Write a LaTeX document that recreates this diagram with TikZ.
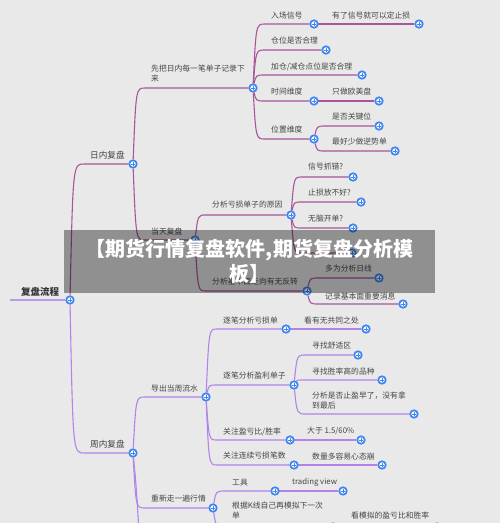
\documentclass[tikz,border=0pt]{standalone}
\usepackage{fontspec}
\setmainfont{Noto Sans CJK SC}
\usetikzlibrary{calc}

\definecolor{paper}{HTML}{E9E9E9}
\definecolor{plum}{HTML}{A8559C}
\definecolor{violet}{HTML}{B283EA}
\definecolor{lavender}{HTML}{B898E8}
\definecolor{knobblue}{HTML}{3D85F0}
\definecolor{inkgray}{HTML}{454545}

\pgfdeclarelayer{edges}
\pgfsetlayers{edges,main}

\begin{document}
\begin{tikzpicture}[x=1pt, y=-1pt,
        knob/.style={circle, draw=knobblue, fill=white, line width=1.7pt, minimum size=7.5pt, inner sep=0pt,
            path picture={\draw[knobblue, line width=0.8pt] (path picture bounding box.center) +(-1.6pt,0) -- +(1.6pt,0)
                (path picture bounding box.center) +(0,-1.6pt) -- +(0,1.6pt);}},
        lbl/.style={anchor=west, inner sep=0pt, text=inkgray, font=\fontsize{7.8}{9.6}\selectfont},
        lbltwo/.style={lbl, anchor=north west, align=left},
        chief/.style={lbl, font=\fontsize{8.6}{10}\selectfont, text=black!75},
        plumline/.style={plum, line width=1.1pt},
        violetline/.style={violet, line width=1.1pt}]

    \begin{pgfonlayer}{edges}
        \fill[paper] (0,0) rectangle (500,523);
    \end{pgfonlayer}
    \useasboundingbox (0,0) rectangle (500,523);

    % root
    \coordinate (rootend) at (10,300);
    \node[knob] (r0) at (70,300) {};
    \node[lbl, font=\fontsize{9.5}{11}\selectfont\bfseries, text=black!80] (tr0) at (21,292) {复盘流程};

    % 日内复盘
    \node[knob] (a) at (133,164) {};
    \node[chief] (ta) at (90,155) {日内复盘};
    \node[knob] (a1) at (253,88) {};
    \node[lbltwo] (ta1) at (151,65) {先把日内每一笔单子记录下\\来};
    \node[knob] (a11) at (314,24) {};
    \node[lbl] (ta11) at (271,16) {入场信号};
    \node[knob] (a111) at (419,24) {};
    \node[lbl] (ta111) at (332,16) {有了信号就可以定止损};
    \node[knob] (a12) at (326,50) {};
    \node[lbl] (ta12) at (271,41) {仓位是否合理};
    \node[knob] (a13) at (362,75) {};
    \node[lbl] (ta13) at (271,67) {加仓/减仓点位是否合理};
    \node[knob] (a14) at (314,101) {};
    \node[lbl] (ta14) at (271,92) {时间维度};
    \node[knob] (a141) at (379,101) {};
    \node[lbl] (ta141) at (332,92) {只做欧美盘};
    \node[knob] (a15) at (314,139) {};
    \node[lbl] (ta15) at (271,130) {位置维度};
    \node[knob] (a151) at (379,126) {};
    \node[lbl] (ta151) at (332,117) {是否关键位};
    \node[knob] (a152) at (395,151) {};
    \node[lbl] (ta152) at (332,142) {最好少做逆势单};

    \node[knob] (a2) at (195,240) {};
    \node[lbl] (ta2) at (151,231) {当天复盘};
    \node[knob] (a21) at (291,215) {};
    \node[lbl] (ta21) at (212,205) {分析亏损单子的原因};
    \node[knob] (a211) at (353,177) {};
    \node[lbl] (ta211) at (308,167) {信号抓错?};
    \node[knob] (a212) at (361,202) {};
    \node[lbl] (ta212) at (308,193) {止损放不好?};
    \node[knob] (a213) at (353,228) {};
    \node[lbl] (ta213) at (308,219) {无脑开单?};
    \node[knob] (a214) at (352,253) {};
    \node[knob] (a22) at (307,291) {};
    \node[lbl] (ta22) at (212,282) {分析基本面走向有无反转};
    \node[knob] (a221) at (379,278) {};
    \node[lbl] (ta221) at (325,269) {多为分析日线};
    \node[knob] (a222) at (403,304) {};
    \node[lbl] (ta222) at (325,296) {记录基本面重要消息};

    % 周内复盘
    \node[knob] (b) at (133,453) {};
    \node[chief] (tb) at (90,444) {周内复盘};
    \coordinate (bdown) at (139,532);
    \node[knob] (b1) at (206,397) {};
    \node[lbl] (tb1) at (151,389) {导出当周流水};
    \node[knob] (b11) at (286,329) {};
    \node[lbl] (tb11) at (223,321) {逐笔分析亏损单};
    \node[knob] (b111) at (366,329) {};
    \node[lbl] (tb111) at (304,321) {看有无共同之处};
    \node[knob] (b12) at (294,385) {};
    \node[lbl] (tb12) at (223,376) {逐笔分析盈利单子};
    \node[knob] (b121) at (358,355) {};
    \node[lbl] (tb121) at (312,346) {寻找舒适区};
    \node[knob] (b122) at (382,380) {};
    \node[lbl] (tb122) at (312,372) {寻找胜率高的品种};
    \node[knob] (b123) at (414,414) {};
    \node[lbltwo] (tb123) at (312,392) {分析是否止盈早了，没有拿\\到最后};
    \node[knob] (b13) at (290,440) {};
    \node[lbl] (tb13) at (223,432) {关注盈亏比/胜率};
    \node[knob] (b131) at (361,440) {};
    \node[lbl] (tb131) at (307,431) {大于 1.5/60\%};
    \node[knob] (b14) at (294,465) {};
    \node[lbl] (tb14) at (223,456) {关注连续亏损笔数};
    \node[knob] (b141) at (382,465) {};
    \node[lbl] (tb141) at (312,457) {数量多容易心态崩};
    \node[knob] (b2) at (213,508) {};
    \node[lbl] (tb2) at (151,499) {重新走一遍行情};
    \node[knob] (b21) at (275,491) {};
    \node[lbl] (tb21) at (232,483) {工具};
    \node[knob] (b211) at (343,491) {};
    \node[lbl] (tb211) at (292,482) {trading view};
    \node[knob] (b22) at (333,527) {};
    \node[lbltwo] (tb22) at (232,502) {根据K线自己再模拟下一次\\单};
    \node[knob] (b221) at (437,527) {};
    \node[lbl] (tb221) at (351,516) {看模拟的盈亏比和胜率};

    \begin{pgfonlayer}{edges}
        \draw[lavender, line width=1.1pt] (rootend) -- (r0);
        \foreach \p/\c in {r0/a, a/a1, a/a2, a1/a11, a1/a12, a1/a13, a1/a14, a1/a15, a11/a111, a14/a141,
                a15/a151, a15/a152, a2/a21, a2/a22, a21/a211, a21/a212, a21/a213, a22/a221, a22/a222}
            \draw[plumline] (\p) .. controls ($(\p |- \c)+(3,0)$) .. ($(t\c.west |- \c)+(-6,0)$) -- (\c);
        \draw[plumline] (a21) .. controls ($(a21 |- a214)+(3,0)$) .. ($(ta213.west |- a214)+(-6,0)$) -- (a214);
        \foreach \p/\c in {r0/b, b/b1, b/b2, b1/b11, b1/b12, b1/b13, b1/b14, b11/b111, b12/b121, b12/b122,
                b12/b123, b13/b131, b14/b141, b2/b21, b2/b22, b21/b211, b22/b221}
            \draw[violetline] (\p) .. controls ($(\p |- \c)+(3,0)$) .. ($(t\c.west |- \c)+(-6,0)$) -- (\c);
        \draw[violetline] (b) .. controls +(3,30) .. (bdown);
    \end{pgfonlayer}

    % banner over the map
    \node[fill=black, fill opacity=0.38, text opacity=1, text=white, minimum width=371pt, minimum height=63pt,
        align=center, inner sep=0pt, font=\fontsize{20}{25}\selectfont\bfseries] (banner) at (249.5,261.5)
        {【期货行情复盘软件,期货复盘分析模\\板】};
\end{tikzpicture}
\end{document}
